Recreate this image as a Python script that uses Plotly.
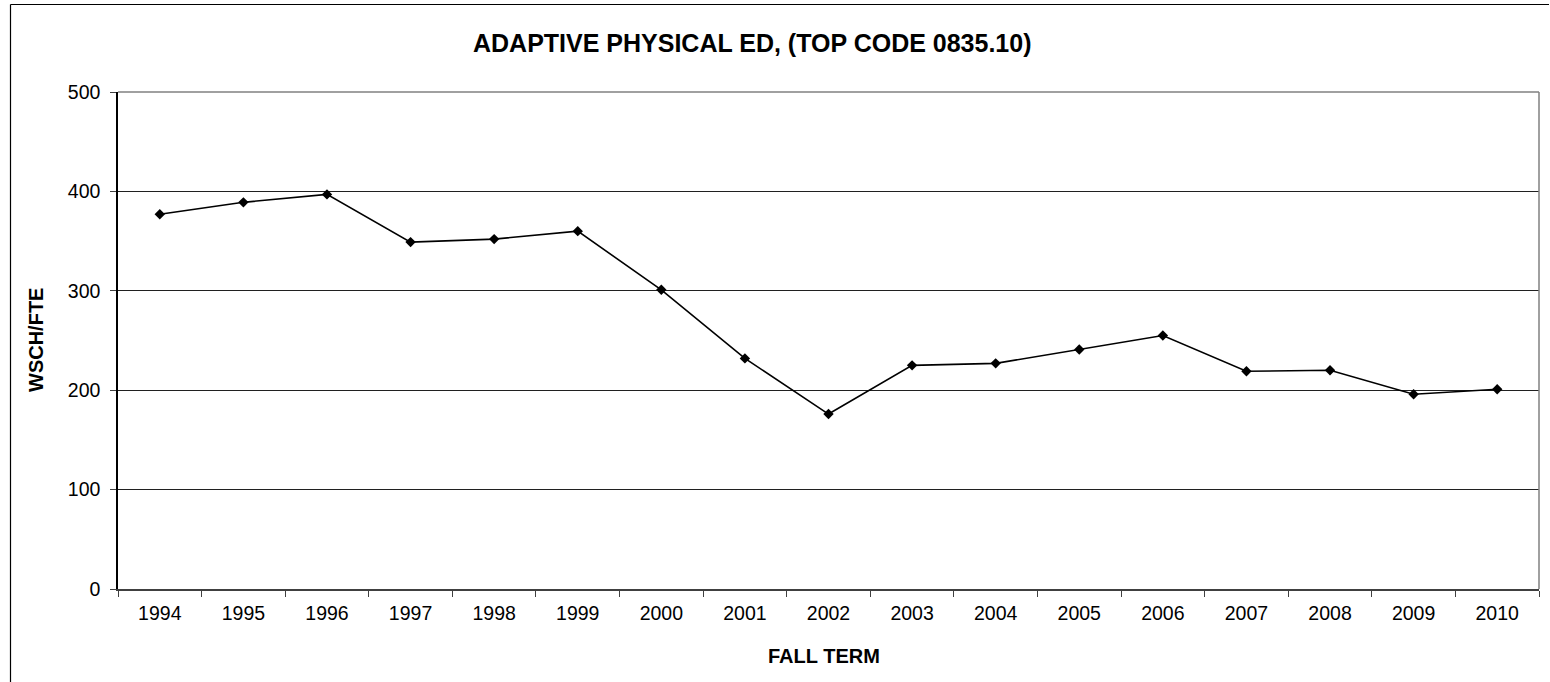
import plotly.graph_objects as go

years = ["1994", "1995", "1996", "1997", "1998", "1999", "2000", "2001", "2002",
         "2003", "2004", "2005", "2006", "2007", "2008", "2009", "2010"]
wsch_fte = [377, 389, 397, 349, 352, 360, 301, 232, 176,
            225, 227, 241, 255, 219, 220, 196, 201]
y_ticks = [0, 100, 200, 300, 400, 500]

title_text = "ADAPTIVE PHYSICAL ED, (TOP CODE 0835.10)"
x_title = "FALL TERM"
y_title = "WSCH/FTE"

FONT = "Liberation Sans, Arial, sans-serif"

fig = go.Figure()
fig.add_trace(go.Scatter(
    x=years, y=wsch_fte, mode="lines+markers",
    line=dict(color="black", width=1.6),
    marker=dict(symbol="diamond", size=8, color="black"),
    showlegend=False, cliponaxis=False,
))

W, H = 1550, 682
L, R, T, B = 118, 11, 92, 93
pw = W - L - R
ph = H - T - B

def px(xp):
    return (xp - L) / pw

def py(yp):
    return (H - B - yp) / ph

fig.update_layout(
    width=W, height=H,
    margin=dict(l=L, r=R, t=T, b=B, autoexpand=False),
    paper_bgcolor="white", plot_bgcolor="white",
    font=dict(family=FONT, size=20, color="black"),
    showlegend=False,
    xaxis=dict(
        type="category", tickson="boundaries", ticks="outside", ticklen=6,
        tickcolor="#404040", tickwidth=1,
        showline=True, linecolor="#404040", linewidth=1.5,
        showgrid=False, zeroline=False, mirror=False,
        tickfont=dict(family=FONT, size=19.5, color="black"),
        ticklabelstandoff=6,
        range=[-0.5, len(years) - 0.5],
    ),
    yaxis=dict(
        range=[0, 500], tickvals=y_ticks, ticks="outside", ticklen=6,
        tickcolor="#404040",
        showline=True, linecolor="black", linewidth=1.5,
        showgrid=True, gridcolor="#202020", gridwidth=1,
        zeroline=False,
        tickfont=dict(family=FONT, size=19.5, color="black"),
        ticklabelstandoff=6,
    ),
    annotations=[
        dict(text="<b>%s</b>" % title_text, xref="paper", yref="paper",
             x=px(752), y=py(43), xanchor="center", yanchor="middle",
             showarrow=False, font=dict(family=FONT, size=25, color="black")),
        dict(text="<b>%s</b>" % x_title, xref="paper", yref="paper",
             x=px(824), y=py(656), xanchor="center", yanchor="middle",
             showarrow=False, font=dict(family=FONT, size=20, color="black")),
        dict(text="<b>%s</b>" % y_title, xref="paper", yref="paper",
             x=px(36), y=py(340), xanchor="center", yanchor="middle",
             textangle=-90,
             showarrow=False, font=dict(family=FONT, size=20, color="black")),
    ],
    shapes=[
        # plot area top & right border (gray)
        dict(type="line", xref="paper", yref="paper", x0=0, x1=1, y0=1, y1=1,
             line=dict(color="#808080", width=1.5)),
        dict(type="line", xref="paper", yref="paper", x0=1, x1=1, y0=0, y1=1,
             line=dict(color="#808080", width=1.5)),
        # outer chart border (left and top)
        dict(type="line", xref="paper", yref="paper", x0=px(10.5), x1=px(10.5),
             y0=py(4.5), y1=py(700), line=dict(color="black", width=1.2)),
        dict(type="line", xref="paper", yref="paper", x0=px(10.5), x1=px(1549),
             y0=py(4.5), y1=py(4.5), line=dict(color="black", width=1.2)),
    ],
)

fig.write_html(
    "out.html",
    config={"displayModeBar": False},
    post_script="document.body.style.margin='0';document.body.style.overflow='hidden';",
)
